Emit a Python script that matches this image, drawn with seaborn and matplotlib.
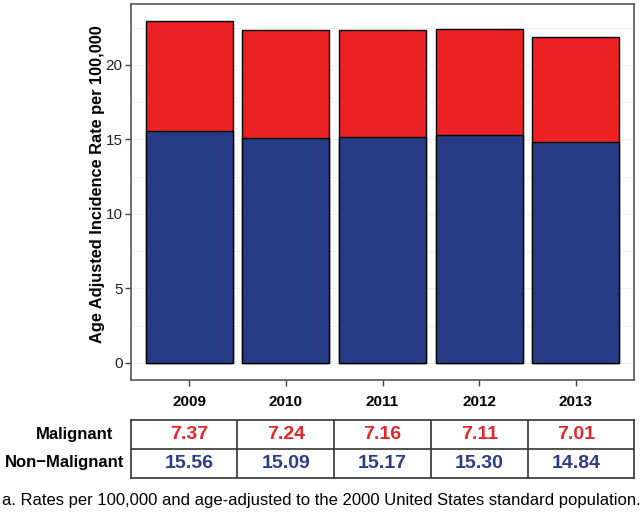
import matplotlib
matplotlib.use("Agg")
import matplotlib.pyplot as plt
import seaborn as sns
import pandas as pd
import numpy as np

years = ["2009", "2010", "2011", "2012", "2013"]
malignant = [7.37, 7.24, 7.16, 7.11, 7.01]
non_malignant = [15.56, 15.09, 15.17, 15.30, 14.84]
row_labels = ["Malignant", "Non\u2212Malignant"]
y_ticks = [0, 5, 10, 15, 20]
ylabel = "Age Adjusted Incidence Rate per 100,000"
footnote = "a. Rates per 100,000 and age-adjusted to the 2000 United States standard population."

RED = "#EC2227"
BLUE = "#263A86"
RED_TXT = "#E3262B"
BLUE_TXT = "#2C3C88"

sns.set_theme(style="white")
plt.rcParams["font.family"] = ["Liberation Sans", "DejaVu Sans"]

df = pd.DataFrame({
    "year": years,
    "total": np.array(malignant) + np.array(non_malignant),
    "non": non_malignant,
})

W, H = 640, 526
fig = plt.figure(figsize=(W / 100, H / 100), dpi=100)
ax = fig.add_axes([131 / W, (H - 380) / H, 503 / W, 376 / H])

# faint grid
for v in np.arange(0, 25, 2.5):
    ax.axhline(v, color="#efefef", lw=0.6, zorder=0)

sns.barplot(data=df, x="year", y="total", color=RED, saturation=1,
            edgecolor="black", linewidth=1.0, width=0.9, ax=ax, zorder=2)
sns.barplot(data=df, x="year", y="non", color=BLUE, saturation=1,
            edgecolor="black", linewidth=1.0, width=0.9, ax=ax, zorder=3)

top = max(df["total"])
pad = top * 0.05
ax.set_ylim(-pad, top + pad)
ax.set_xlim(-0.6, len(years) - 0.4)
ax.set_yticks(y_ticks)
ax.set_yticklabels([str(t) for t in y_ticks], fontsize=11, color="#222222")
ax.set_xticks(range(len(years)))
ax.set_xticklabels(years, fontsize=11, fontweight="bold", color="black")
ax.tick_params(axis="both", which="both", direction="out", length=4,
               width=1, color="#444444", left=True, bottom=True)
ax.tick_params(axis="x", pad=7)
ax.tick_params(axis="y", pad=2)
ax.set_xlabel("")
ax.set_ylabel(ylabel, fontsize=11.8, fontweight="bold", color="black")
ax.yaxis.set_label_coords(-0.052, 0.52)
for s in ax.spines.values():
    s.set_visible(True)
    s.set_color("#555555")
    s.set_linewidth(1.2)

# table below
tx = fig.add_axes([131 / W, (H - 478) / H, 503 / W, 58 / H])
tx.set_xlim(-0.6, len(years) - 0.4)
tx.set_ylim(0, 2)
tx.set_xticks([])
tx.set_yticks([])
for s in tx.spines.values():
    s.set_visible(True)
    s.set_color("#333333")
    s.set_linewidth(1.2)
tx.axhline(1, color="#333333", lw=1.2)
for i in range(len(years) - 1):
    tx.axvline(i + 0.5, color="#333333", lw=1.2)
for i in range(len(years)):
    tx.text(i, 1.5, f"{malignant[i]:.2f}", ha="center", va="center",
            fontsize=14, fontweight="bold", color=RED_TXT)
    tx.text(i, 0.5, f"{non_malignant[i]:.2f}", ha="center", va="center",
            fontsize=14, fontweight="bold", color=BLUE_TXT)

fig.text(113 / W, 1 - 435 / H, row_labels[0], ha="right", va="center",
         fontsize=12, fontweight="bold", color="black")
fig.text(124 / W, 1 - 463 / H, row_labels[1], ha="right", va="center",
         fontsize=12, fontweight="bold", color="black")

fig.text(2 / W, 1 - 501 / H, footnote, ha="left", va="center",
         fontsize=12, color="black")

fig.savefig("out.png", dpi=100)
